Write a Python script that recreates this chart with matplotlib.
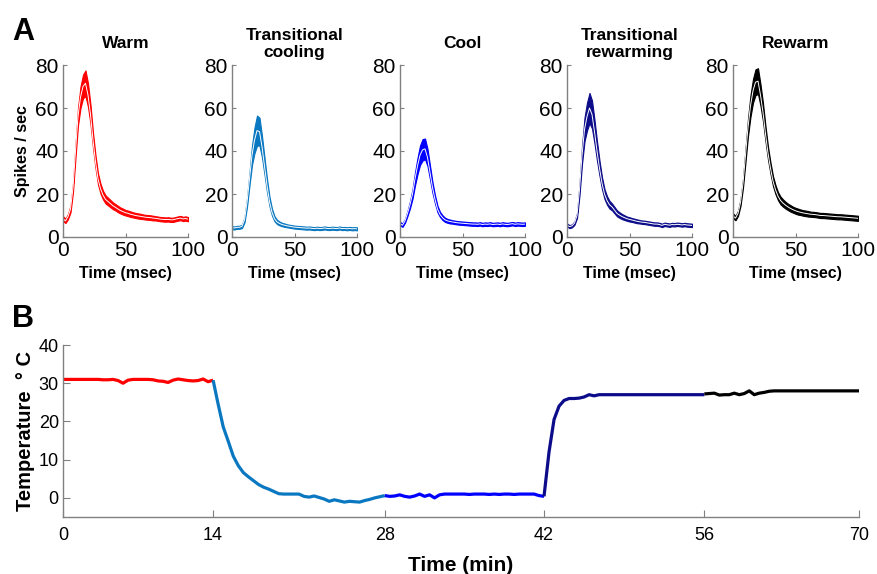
import numpy as np
import matplotlib
matplotlib.use("Agg")
import matplotlib.pyplot as plt

plt.rcParams['font.family'] = ['Liberation Sans', 'DejaVu Sans']

# ---- panel A: PSTHs (2 ms bins) ----
psth_time = np.arange(0, 101, 2)

panel_titles = ['Warm', 'Transitional\ncooling', 'Cool', 'Transitional\nrewarming', 'Rewarm']
panel_colors = ['#ff0000', '#0a78c0', '#0000ff', '#0c0c8a', '#000000']

warm_mean = [8.5, 7.5, 9.5, 13, 23, 40, 56, 65, 70, 71.5, 66, 57, 45, 35, 27, 22.5, 19.5,
             17.5, 16.5, 15.5, 14.5, 13.8, 13, 12.3, 11.8, 11.3, 11, 10.6, 10.3, 10, 9.8,
             9.6, 9.4, 9.2, 9.1, 9, 8.8, 8.7, 8.5, 8.3, 8.2, 8.1, 8.2, 8.0, 8.0, 8.3, 8.6,
             8.8, 8.4, 8.6, 8.3]
warm_sem = [1.2, 1.0, 1.2, 1.5, 2.0, 3.0, 4.0, 5.0, 5.5, 6.0, 5.5, 4.5, 3.5, 3.0, 2.6, 2.3,
            2.0, 1.9, 1.8, 1.7, 1.6, 1.5, 1.5, 1.4, 1.4, 1.3, 1.3, 1.3, 1.2, 1.2, 1.2, 1.2,
            1.1, 1.1, 1.1, 1.1, 1.1, 1.0, 1.0, 1.0, 1.0, 1.0, 1.0, 1.0, 1.0, 1.0, 1.0, 1.0,
            1.0, 1.0, 1.0]

tcool_mean = [4.3, 4.2, 4.5, 4.5, 5, 8, 16, 27, 38, 45, 49.5, 49, 42, 33, 24, 16.5, 11.5,
              8.5, 7, 6.3, 5.8, 5.5, 5.2, 5, 4.8, 4.6, 4.5, 4.4, 4.3, 4.2, 4.1, 4.2, 4.0,
              3.9, 4.1, 3.9, 4.0, 4.2, 4.0, 3.9, 4.1, 4.0, 3.9, 4.2, 3.9, 4.0, 3.8, 4.0,
              3.8, 3.9, 3.8]
tcool_sem = [0.7, 0.7, 0.7, 0.7, 0.8, 1.2, 2.0, 3.0, 4.5, 6.0, 7.0, 6.5, 5.0, 4.0, 3.0, 2.2,
             1.6, 1.2, 1.0, 0.9, 0.8, 0.8, 0.7, 0.7, 0.7, 0.7, 0.7, 0.7, 0.7, 0.7, 0.7, 0.7,
             0.7, 0.7, 0.7, 0.7, 0.7, 0.7, 0.7, 0.7, 0.7, 0.7, 0.7, 0.7, 0.7, 0.7, 0.7, 0.7,
             0.7, 0.7, 0.7]

cool_mean = [6.2, 5.5, 7.5, 11, 15, 20, 27, 33, 38, 40.5, 41, 37, 30, 23, 17.5, 13, 10.5,
             9, 8, 7.5, 7.2, 7, 6.8, 6.6, 6.5, 6.4, 6.3, 6.2, 6.1, 6.0, 6.0, 5.9, 6.1, 5.8,
             6.0, 5.9, 6.1, 5.8, 5.9, 6.0, 5.8, 6.1, 5.9, 5.8, 6.0, 6.2, 5.9, 6.1, 6.0,
             5.9, 6.0]
cool_sem = [0.8, 0.8, 0.9, 1.2, 1.6, 2.2, 3.0, 3.8, 4.5, 5.0, 4.8, 4.0, 3.2, 2.5, 1.9, 1.5,
            1.2, 1.1, 1.0, 0.9, 0.9, 0.8, 0.8, 0.8, 0.8, 0.8, 0.8, 0.8, 0.8, 0.8, 0.8, 0.8,
            0.8, 0.8, 0.8, 0.8, 0.8, 0.8, 0.8, 0.8, 0.8, 0.8, 0.8, 0.8, 0.8, 0.8, 0.8, 0.8,
            0.8, 0.8, 0.8]

trew_mean = [5.6, 4.8, 5.2, 6.5, 10, 22, 38, 50, 56, 60, 57, 49, 40, 32, 25, 20, 17, 15,
             14, 12.5, 11, 10.2, 9.5, 9, 8.5, 8.2, 7.9, 7.6, 7.3, 7.1, 6.9, 6.8, 6.6, 6.4,
             6.2, 6.0, 6.0, 5.8, 5.4, 5.9, 5.7, 5.5, 5.8, 5.7, 5.9, 5.8, 5.6, 5.8, 5.6,
             5.5, 5.4]
trew_sem = [0.7, 0.7, 0.7, 0.8, 1.2, 2.5, 4.0, 5.5, 6.5, 7.0, 6.5, 5.5, 4.5, 3.5, 2.8, 2.3,
            2.0, 1.8, 1.6, 1.5, 1.4, 1.3, 1.2, 1.1, 1.0, 1.0, 0.9, 0.9, 0.9, 0.8, 0.8, 0.8,
            0.8, 0.8, 0.8, 0.8, 0.8, 0.8, 0.8, 0.8, 0.8, 0.8, 0.8, 0.8, 0.8, 0.8, 0.8, 0.8,
            0.8, 0.8, 0.8]

rew_mean = [9.8, 8.8, 11, 16, 25, 38, 51, 61, 68, 72, 72.5, 66, 58, 48, 39, 32, 26, 22, 19,
            17, 15.8, 14.8, 14, 13.3, 12.7, 12.2, 11.8, 11.5, 11.2, 11, 10.8, 10.6, 10.5,
            10.4, 10.2, 10, 10, 9.9, 9.8, 9.7, 9.6, 9.5, 9.4, 9.4, 9.3, 9.2, 9.1, 9.0,
            8.9, 8.8, 8.7]
rew_sem = [1.2, 1.0, 1.2, 1.5, 2.0, 3.0, 4.0, 5.0, 5.5, 6.0, 6.0, 5.0, 4.2, 3.5, 3.0, 2.6,
           2.3, 2.1, 1.9, 1.8, 1.7, 1.6, 1.5, 1.5, 1.4, 1.4, 1.4, 1.3, 1.3, 1.3, 1.3, 1.2,
           1.2, 1.2, 1.2, 1.2, 1.2, 1.2, 1.2, 1.2, 1.2, 1.2, 1.2, 1.2, 1.2, 1.2, 1.2, 1.2,
           1.2, 1.2, 1.2]

psth_means = [warm_mean, tcool_mean, cool_mean, trew_mean, rew_mean]
psth_sems = [warm_sem, tcool_sem, cool_sem, trew_sem, rew_sem]

# ---- panel B: temperature trace, one list per epoch ----
epoch_edges = [0, 13.2, 28.3, 42.3, 56.4, 70]
epoch_labels = ['0', '14', '28', '42', '56', '70']

temp_warm = [31.0, 31.0, 31.0, 31.0, 31.0, 31.0, 31.0, 31.0, 30.9, 30.9, 31.0, 30.7, 30.0,
             30.8, 31.0, 31.0, 31.0, 31.0, 30.9, 30.6, 30.5, 30.2, 30.8, 31.1, 30.9, 30.7,
             30.6, 30.7, 31.1, 30.4, 30.8]
temp_tcool = [30.8, 24.5, 18.6, 14.8, 10.9, 8.4, 6.6, 5.5, 4.5, 3.5, 2.8, 2.3, 1.7, 1.1, 1.0,
              1.0, 1.0, 1.0, 0.4, 0.2, 0.5, 0.1, -0.3, -0.9, -0.5, -0.8, -1.1, -0.9, -1.0,
              -1.1, -0.7, -0.4, 0.0, 0.3, 0.6]
temp_cool = [0.6, 0.4, 0.5, 0.8, 0.4, 0.2, 0.5, 1.0, 0.4, 0.8, 0.0, 0.8, 1.0, 1.0, 1.0, 1.0,
             1.0, 0.9, 1.0, 1.0, 1.0, 0.9, 1.0, 0.9, 1.0, 1.0, 0.9, 1.0, 1.0, 1.0, 1.0, 0.6,
             0.4]
temp_trew = [0.4, 12.0, 20.5, 24.0, 25.5, 26.0, 26.0, 26.1, 26.4, 27.0, 26.7, 27.0, 27.0,
             27.0, 27.0, 27.0, 27.0, 27.0, 27.0, 27.0, 27.0, 27.0, 27.0, 27.0, 27.0, 27.0,
             27.0, 27.0, 27.0, 27.0, 27.0, 27.0, 27.0]
temp_rew = [27.2, 27.3, 27.4, 26.9, 27.0, 27.0, 27.4, 27.0, 27.3, 28.0, 27.0, 27.4, 27.6,
            27.9, 28.0, 28.0, 28.0, 28.0, 28.0, 28.0, 28.0, 28.0, 28.0, 28.0, 28.0, 28.0,
            28.0, 28.0, 28.0, 28.0, 28.0, 28.0]
temp_epochs = [temp_warm, temp_tcool, temp_cool, temp_trew, temp_rew]

spine_gray = '#808080'


def style_axes(ax):
    for side in ['top', 'right']:
        ax.spines[side].set_visible(False)
    for side in ['left', 'bottom']:
        ax.spines[side].set_color(spine_gray)
        ax.spines[side].set_linewidth(1.0)
    ax.tick_params(direction='in', color=spine_gray, length=3, width=0.8)


fig = plt.figure(figsize=(8.77, 5.74), dpi=100)

top_lefts = [63, 232, 400, 567, 733]
title_pads = [12, 6, 12, 6, 12]
for i in range(5):
    ax = fig.add_axes([top_lefts[i] / 877, 1 - 237 / 574, 125 / 877, 172 / 574])
    m = np.array(psth_means[i])
    s = np.array(psth_sems[i])
    c = panel_colors[i]
    ax.fill_between(psth_time, m - s, m + s, facecolor=c, edgecolor=c, linewidth=0.8)
    ax.plot(psth_time, m, color='white', lw=0.7)
    ax.set_xlim(0, 100)
    ax.set_ylim(0, 80)
    ax.set_xticks([0, 50, 100])
    ax.set_yticks([0, 20, 40, 60, 80])
    style_axes(ax)
    ax.tick_params(labelsize=15, pad=3)
    ax.set_title(panel_titles[i], fontsize=12.5, fontweight='bold', pad=title_pads[i],
                 linespacing=1.1)
    ax.set_xlabel('Time (msec)', fontsize=11.5, fontweight='bold', labelpad=4)
    if i == 0:
        ax.set_ylabel('Spikes / sec', fontsize=11.5, fontweight='bold', labelpad=4)

axb = fig.add_axes([63 / 877, 1 - 517 / 574, 796 / 877, 172 / 574])
for i in range(5):
    seg = temp_epochs[i]
    x = np.linspace(epoch_edges[i], epoch_edges[i + 1], len(seg))
    axb.plot(x, seg, color=panel_colors[i], lw=2.3, solid_capstyle='butt')
axb.set_xlim(0, 70)
axb.set_ylim(-5, 40)
axb.set_xticks(epoch_edges)
axb.set_xticklabels(epoch_labels)
axb.set_yticks([0, 10, 20, 30, 40])
style_axes(axb)
axb.tick_params(axis='x', labelsize=13, pad=7, length=5)
axb.tick_params(axis='y', labelsize=13, pad=3, length=5)
axb.set_xlabel('Time (min)', fontsize=15, fontweight='bold', labelpad=9)
axb.set_ylabel('Temperature  ° C', fontsize=14.5, fontweight='bold', labelpad=3)

fig.text(12 / 877, 1 - 40 / 574, 'A', fontsize=22, fontweight='bold')
fig.text(12 / 877, 1 - 327 / 574, 'B', fontsize=22, fontweight='bold')

fig.savefig('out.png', dpi=100)
